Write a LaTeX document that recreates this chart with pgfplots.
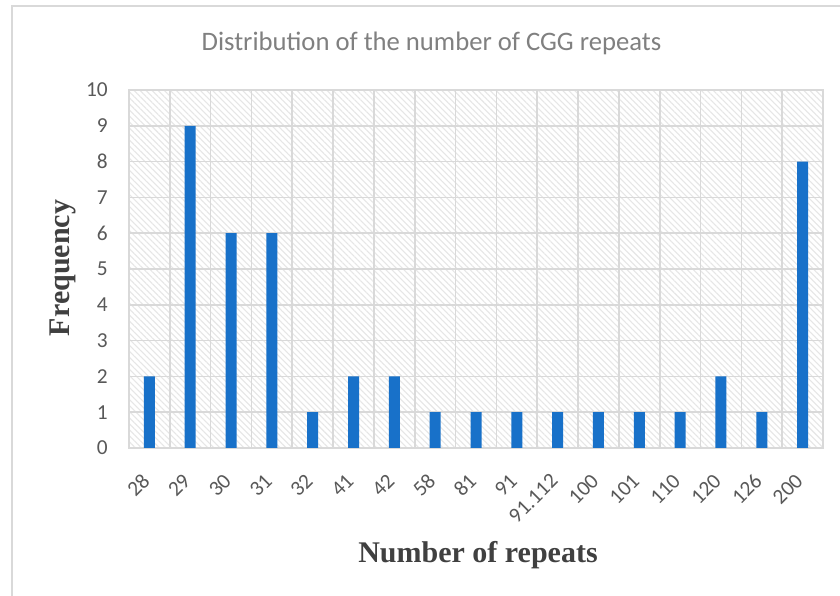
\documentclass[border=0pt]{standalone}
\usepackage{pgfplots}
\pgfplotsset{compat=1.18}
\usepackage{fontspec}
\setmainfont{Carlito}
\newfontfamily\serifbold{Liberation Serif}
\usetikzlibrary{patterns.meta}
\definecolor{barblue}{RGB}{24,113,201}
\definecolor{gridgray}{RGB}{217,217,217}
\definecolor{hatchgray}{RGB}{230,230,230}
\definecolor{ticktext}{RGB}{89,89,89}
\definecolor{titletext}{RGB}{128,128,128}
\definecolor{labeltext}{RGB}{64,64,64}
\begin{document}
\begin{tikzpicture}
\useasboundingbox (0,0) rectangle (630pt,447pt);
\fill[white] (0,0) rectangle (630pt,447pt);
\draw[gridgray, line width=1.2pt] (9pt,0) -- (9pt,442.5pt) -- (631pt,442.5pt);
\begin{axis}[
  at={(96.75pt,111pt)}, anchor=south west,
  scale only axis, width=520.5pt, height=268.5pt,
  xmin=-0.5, xmax=16.5, ymin=0, ymax=10,
  ytick={0,1,...,10},
  xtick={0,1,...,16},
  xticklabels={28,29,30,31,32,41,42,58,81,91,91.112,100,101,110,120,126,200},
  minor xtick={-0.5,0.5,...,16.5},
  xmajorgrids=false, xminorgrids=true, ymajorgrids=true,
  grid style={gridgray, line width=1.2pt},
  minor grid style={gridgray, line width=1.2pt},
  axis line style={gridgray, line width=1.2pt},
  major tick length=0pt, minor tick length=0pt,
  tick style={draw=none},
  axis background/.style={preaction={fill=white}, pattern={Lines[angle=-45, distance=3.2pt, line width=0.8pt]}, pattern color=hatchgray},
  ticklabel style={font=\fontsize{16pt}{19pt}\selectfont, text=ticktext},
  yticklabel style={inner sep=0pt, anchor=east, xshift=-15.75pt},
  xticklabel style={inner sep=0pt, xshift=-2.5pt, yshift=-22pt, rotate=45, anchor=east},
  /pgf/number format/assume math mode=true,
]
\addplot[ybar, bar width=8.25pt, fill=barblue, draw=none] coordinates {
(0,2) (1,9) (2,6) (3,6) (4,1) (5,2) (6,2) (7,1) (8,1) (9,1) (10,1) (11,1) (12,1) (13,1) (14,2) (15,1) (16,8)
};
\end{axis}
\node[text=titletext, font=\fontsize{20pt}{24pt}\selectfont] at (323.6pt,414.75pt) {Distribution of the number of CGG repeats};
\node[text=labeltext, font=\fontsize{22.5pt}{27pt}\serifbold\bfseries, rotate=90] at (47.25pt,246pt) {Frequency};
\node[text=labeltext, font=\fontsize{22.5pt}{27pt}\serifbold\bfseries] at (358.5pt,30.75pt) {Number of repeats};
\end{tikzpicture}
\end{document}
